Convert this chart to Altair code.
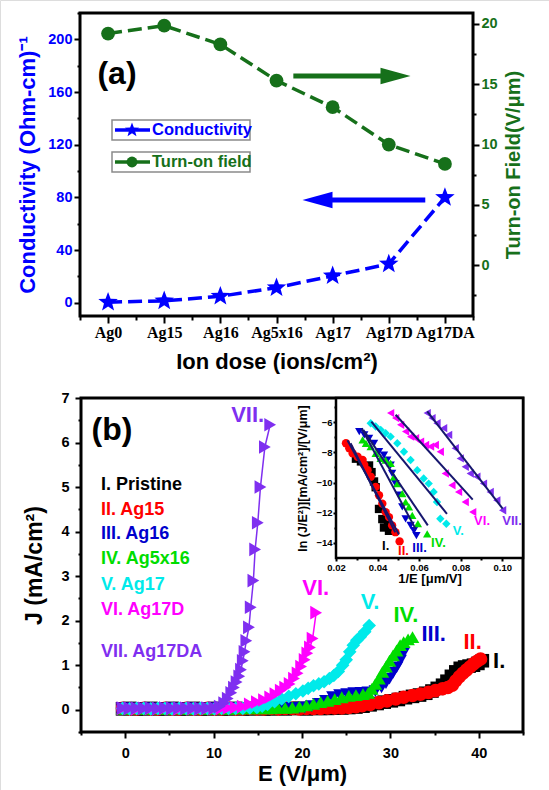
import altair as alt
import pandas as pd

FONT = "Liberation Sans"
BLUE = "#0000ff"
GREEN = "#16701a"
STAR = ("M0,-1L0.247,-0.34L0.951,-0.309L0.399,0.13L0.588,0.809L0,0.42"
        "L-0.588,0.809L-0.399,0.13L-0.951,-0.309L-0.247,-0.34Z")

# ---------------- Panel (a) data ----------------
SAMPLES = ["Ag0", "Ag15", "Ag16", "Ag5x16", "Ag17", "Ag17D", "Ag17DA"]
CONDUCTIVITY = [0.5, 1.5, 5.0, 11.5, 20.5, 29.5, 80.0]
TURN_ON_FIELD = [19.2, 19.85, 18.3, 15.3, 13.1, 10.0, 8.4]

# ---------------- Panel (b) data ----------------
SERIES = ["I.", "II.", "III.", "IV.", "V.", "VI.", "VII."]
SERIES_NAMES = ["I. Pristine", "II. Ag15", "III. Ag16", "IV. Ag5x16",
                "V. Ag17", "VI. Ag17D", "VII. Ag17DA"]
COLORS = ["#000000", "#ff0000", "#0000cc", "#00dd00", "#00eaea", "#ff00ff", "#7f2ff0"]
SHAPES_MAIN = ["square", "circle", "triangle-down", "triangle-up", "diamond",
               "triangle-right", "triangle-right"]
SHAPES_INSET = ["square", "circle", "triangle-down", "triangle-up", "diamond",
                "triangle-left", "triangle-left"]

JE_I = [(-0.3, 0.02), (0.5, 0.03), (1.3, 0.02), (2.1, 0.02), (2.9, 0.03), (3.7, 0.02),
        (4.5, 0.02), (5.3, 0.03), (6.1, 0.02), (6.9, 0.02), (7.7, 0.03), (8.5, 0.02),
        (9.3, 0.02), (10.1, 0.03), (10.9, 0.02), (11.7, 0.02), (12.5, 0.03), (13.3, 0.02),
        (14.1, 0.02), (14.9, 0.03), (15.7, 0.02), (16.5, 0.02), (17.3, 0.03), (18.1, 0.02),
        (18.9, 0.03), (19.7, 0.03), (20.5, 0.02), (21.3, 0.03), (22.1, 0.03), (22.9, 0.03),
        (23.7, 0.04), (24.5, 0.04), (25.3, 0.05), (26.1, 0.06), (26.9, 0.08), (27.7, 0.11),
        (28.5, 0.14), (29.3, 0.17), (30.1, 0.20), (30.9, 0.23), (31.7, 0.27), (32.5, 0.30),
        (33.3, 0.33), (34.0, 0.37), (34.7, 0.42), (35.3, 0.48), (35.9, 0.55), (36.4, 0.64),
        (36.9, 0.75), (37.4, 0.85), (37.9, 0.93), (38.4, 0.96), (38.9, 0.98), (39.4, 1.00),
        (39.9, 1.04), (40.4, 1.10)]
JE_II = [(-0.3, 0.03), (0.5, 0.02), (1.3, 0.02), (2.1, 0.03), (2.9, 0.02), (3.7, 0.02),
         (4.5, 0.03), (5.3, 0.02), (6.1, 0.02), (6.9, 0.03), (7.7, 0.02), (8.5, 0.02),
         (9.3, 0.03), (10.1, 0.02), (10.9, 0.02), (11.7, 0.03), (12.5, 0.02), (13.3, 0.02),
         (14.1, 0.03), (14.9, 0.02), (15.7, 0.02), (16.5, 0.03), (17.3, 0.02), (18.1, 0.03),
         (18.9, 0.03), (19.7, 0.02), (20.5, 0.03), (21.3, 0.03), (22.1, 0.03), (22.9, 0.04),
         (23.7, 0.04), (24.5, 0.04), (25.3, 0.05), (26.1, 0.07), (26.8, 0.09), (27.7, 0.12),
         (28.7, 0.16), (29.6, 0.20), (30.6, 0.24), (31.5, 0.28), (32.5, 0.32), (33.4, 0.35),
         (34.3, 0.39), (35.1, 0.43), (35.9, 0.47), (36.5, 0.50), (37.0, 0.55), (37.4, 0.65),
         (37.8, 0.74), (38.2, 0.82), (38.6, 0.89), (39.0, 0.96), (39.4, 1.03), (39.8, 1.09),
         (40.2, 1.14)]
JE_III = [(-0.3, 0.03), (0.5, 0.03), (1.3, 0.02), (2.1, 0.03), (2.9, 0.03), (3.7, 0.02),
          (4.5, 0.03), (5.3, 0.03), (6.1, 0.02), (6.9, 0.03), (7.7, 0.03), (8.5, 0.02),
          (9.3, 0.03), (10.1, 0.03), (10.9, 0.02), (11.7, 0.03), (12.5, 0.03), (13.3, 0.02),
          (14.1, 0.03), (14.9, 0.03), (15.7, 0.03), (16.5, 0.03), (17.3, 0.03), (18.1, 0.04),
          (18.9, 0.04), (19.7, 0.04), (20.3, 0.05), (21.1, 0.08), (21.9, 0.13), (22.7, 0.20),
          (23.5, 0.28), (24.3, 0.33), (25.1, 0.35), (25.9, 0.37), (26.7, 0.38), (27.5, 0.39),
          (28.3, 0.42), (29.0, 0.50), (29.5, 0.60), (29.9, 0.70), (30.3, 0.83), (30.7, 0.95),
          (31.1, 1.10), (31.5, 1.28)]
JE_IV = [(-0.3, 0.02), (0.5, 0.03), (1.3, 0.03), (2.1, 0.02), (2.9, 0.03), (3.7, 0.03),
         (4.5, 0.02), (5.3, 0.03), (6.1, 0.03), (6.9, 0.02), (7.7, 0.03), (8.5, 0.03),
         (9.3, 0.02), (10.1, 0.03), (10.9, 0.03), (11.7, 0.02), (12.5, 0.03), (13.3, 0.03),
         (14.1, 0.03), (14.9, 0.03), (15.7, 0.03), (16.5, 0.03), (17.3, 0.04), (18.1, 0.04),
         (18.9, 0.05), (19.7, 0.07), (20.5, 0.10), (21.3, 0.13), (22.1, 0.17), (22.9, 0.20),
         (23.7, 0.24), (24.5, 0.28), (25.3, 0.31), (26.1, 0.33), (26.9, 0.35), (27.5, 0.38),
         (27.9, 0.47), (28.3, 0.58), (28.7, 0.70), (29.1, 0.85), (29.5, 0.97), (29.9, 1.10),
         (30.3, 1.22), (30.7, 1.33), (31.1, 1.45), (31.5, 1.52), (32.0, 1.58), (32.5, 1.63)]
JE_V = [(-0.3, 0.03), (0.5, 0.02), (1.3, 0.03), (2.1, 0.03), (2.9, 0.02), (3.7, 0.03),
        (4.5, 0.03), (5.3, 0.02), (6.1, 0.03), (6.9, 0.03), (7.7, 0.02), (8.5, 0.03),
        (9.3, 0.03), (10.1, 0.02), (10.9, 0.03), (11.7, 0.03), (12.5, 0.03), (13.3, 0.03),
        (14.1, 0.04), (14.9, 0.05), (15.5, 0.08), (16.1, 0.12), (16.9, 0.18), (17.7, 0.24),
        (18.5, 0.30), (19.3, 0.36), (20.1, 0.42), (20.7, 0.48), (21.3, 0.54), (21.9, 0.58),
        (22.5, 0.63), (23.1, 0.70), (23.6, 0.77), (24.1, 0.86), (24.6, 1.00), (25.0, 1.12),
        (25.4, 1.30), (25.8, 1.45), (26.2, 1.56), (26.6, 1.64), (27.1, 1.75), (27.6, 1.89)]
JE_VI = [(-0.3, 0.03), (0.5, 0.03), (1.3, 0.02), (2.1, 0.03), (2.9, 0.03), (3.7, 0.02),
         (4.5, 0.03), (5.3, 0.03), (6.1, 0.02), (6.9, 0.03), (7.7, 0.03), (8.5, 0.02),
         (9.3, 0.03), (10.1, 0.03), (10.9, 0.03), (11.7, 0.04), (12.5, 0.05), (13.3, 0.07),
         (14.1, 0.12), (14.9, 0.17), (15.7, 0.22), (16.4, 0.28), (17.0, 0.35), (17.6, 0.43),
         (18.1, 0.50), (18.6, 0.58), (19.1, 0.70), (19.5, 0.82), (19.9, 0.97), (20.3, 1.12),
         (20.6, 1.27), (20.9, 1.40), (21.2, 1.60), (21.6, 2.18)]
JE_VII = [(-0.3, 0.04), (0.5, 0.03), (1.3, 0.04), (2.1, 0.03), (2.9, 0.04), (3.7, 0.03),
          (4.5, 0.04), (5.3, 0.03), (6.1, 0.04), (6.9, 0.03), (7.7, 0.04), (8.5, 0.03),
          (9.3, 0.04), (10.1, 0.04), (10.7, 0.07), (11.2, 0.15), (11.6, 0.25), (12.0, 0.38),
          (12.3, 0.50), (12.6, 0.62), (12.9, 0.75), (13.1, 0.90), (13.3, 1.10), (13.5, 1.30),
          (13.7, 1.55), (14.0, 1.85), (14.2, 2.30), (14.5, 2.90), (14.7, 3.60), (15.0, 4.20),
          (15.3, 5.00), (15.8, 5.90), (16.4, 6.40)]
JE_ALL = [JE_I, JE_II, JE_III, JE_IV, JE_V, JE_VI, JE_VII]

# inset: ln(J/E^2) vs 1/E
FN_I = [(0.0296, -8.42), (0.0320, -8.60), (0.0359, -8.87), (0.0371, -9.31), (0.0383, -9.93),
        (0.0391, -10.31), (0.0407, -11.75), (0.0423, -12.42), (0.0431, -12.98),
        (0.0450, -12.76), (0.0455, -13.20)]
FN_II = [(0.0248, -7.40), (0.0264, -7.73), (0.0280, -8.07), (0.0304, -8.29), (0.0328, -8.51),
         (0.0336, -8.84), (0.0352, -9.18), (0.0367, -9.62), (0.0391, -10.29), (0.0407, -10.84),
         (0.0423, -11.40), (0.0439, -11.96), (0.0455, -12.29), (0.0470, -12.84),
         (0.0486, -13.29), (0.0506, -13.90)]
FN_III = [(0.0312, -6.62), (0.0336, -6.84), (0.0359, -7.07), (0.0383, -7.40), (0.0407, -7.96),
          (0.0431, -8.18), (0.0447, -8.51), (0.0463, -8.84), (0.0470, -9.40), (0.0486, -10.07),
          (0.0503, -10.84), (0.0519, -11.62), (0.0535, -12.40), (0.0559, -12.84),
          (0.0575, -13.18), (0.0587, -13.51)]
FN_IV = [(0.0328, -7.18), (0.0344, -7.40), (0.0367, -7.62), (0.0391, -8.07), (0.0415, -8.40),
         (0.0439, -8.51), (0.0463, -8.73), (0.0479, -9.62), (0.0495, -10.07), (0.0519, -10.73),
         (0.0535, -11.29), (0.0551, -11.62), (0.0567, -12.18), (0.0594, -12.73),
         (0.0639, -13.40)]
FN_V = [(0.0367, -6.07), (0.0391, -6.29), (0.0415, -6.51), (0.0439, -6.73), (0.0463, -6.96),
        (0.0495, -7.40), (0.0527, -7.96), (0.0559, -8.51), (0.0591, -9.18), (0.0622, -9.73),
        (0.0646, -10.07), (0.0670, -10.62), (0.0686, -11.29), (0.0702, -12.40),
        (0.0731, -12.73)]
FN_VI = [(0.0463, -5.40), (0.0487, -5.73), (0.0511, -6.18), (0.0535, -6.62), (0.0559, -6.96),
         (0.0583, -7.07), (0.0607, -7.29), (0.0631, -7.51), (0.0655, -7.62), (0.0678, -7.51),
         (0.0702, -7.96), (0.0726, -9.40), (0.0758, -10.18), (0.0790, -10.62),
         (0.0822, -11.29), (0.0858, -11.96)]
FN_VII = [(0.0639, -5.40), (0.0662, -5.73), (0.0686, -6.07), (0.0718, -6.40), (0.0742, -6.84),
          (0.0774, -7.73), (0.0798, -8.40), (0.0822, -8.96), (0.0846, -9.40), (0.0878, -9.62),
          (0.0910, -10.07), (0.0942, -10.62), (0.0974, -11.18), (0.1002, -11.84)]
FN_ALL = [FN_I, FN_II, FN_III, FN_IV, FN_V, FN_VI, FN_VII]

FIT_ALL = [[(0.0270, -7.40), (0.0485, -13.30)],
           [(0.0255, -7.20), (0.0503, -13.45)],
           [(0.0323, -6.40), (0.0583, -13.07)],
           [(0.0331, -6.51), (0.0642, -12.84)],
           [(0.0370, -5.96), (0.0734, -12.07)],
           [(0.0487, -5.51), (0.0858, -11.13)],
           [(0.0639, -5.29), (0.1002, -11.73)]]

LABEL_MAIN_E = [42.3, 39.3, 34.9, 31.75, 27.7, 21.55, 13.85]
LABEL_MAIN_J = [1.10, 1.51, 1.71, 2.12, 2.41, 2.73, 6.62]
LABEL_INSET_X = [0.0439, 0.0525, 0.0602, 0.0693, 0.0789, 0.0903, 0.1047]
LABEL_INSET_Y = [-14.2, -14.53, -14.33, -14.0, -13.2, -12.53, -12.53]

# ---------------- data frames ----------------
df_a = pd.DataFrame({"idx": list(range(len(SAMPLES))), "sample": SAMPLES,
                     "cond": CONDUCTIVITY, "field": TURN_ON_FIELD})
rows = []
for si, pts in enumerate(JE_ALL):
    for k, (e, j) in enumerate(pts):
        rows.append({"series": SERIES[si], "E": e, "J": j, "ord": si * 1000 + k})
df_b = pd.DataFrame(rows)
rows = []
for si, pts in enumerate(FN_ALL):
    for k, (x, y) in enumerate(pts):
        rows.append({"series": SERIES[si], "invE": x, "lnJ": y, "ord": si * 1000 + k})
df_c = pd.DataFrame(rows)
rows = []
for si, pts in enumerate(FIT_ALL):
    for k, (x, y) in enumerate(pts):
        rows.append({"series": SERIES[si], "invE": x, "lnJ": y, "ord": k})
df_fit = pd.DataFrame(rows)
df_lab_b = pd.DataFrame({"series": SERIES, "E": LABEL_MAIN_E, "J": LABEL_MAIN_J})
df_lab_c = pd.DataFrame({"series": SERIES, "invE": LABEL_INSET_X, "lnJ": LABEL_INSET_Y})
one = pd.DataFrame({"k": [0]})

common = dict(domain=False, grid=False, tickColor="black", tickWidth=2,
              labelFont=FONT, labelFontWeight="bold", labelOverlap=False,
              labelFlush=False, titleFont=FONT, titleFontWeight="bold")


def minor_axis(orient, offset, values, size):
    return alt.Axis(orient=orient, offset=offset, values=values, tickSize=size,
                    labels=False, title=None, domain=False, grid=False,
                    tickColor="black", tickWidth=2)


def S(domain, rng):
    return alt.Scale(domain=domain, range=rng, nice=False, zero=False)


sx_a = S([-0.5, 6.5], [80, 473])
sy_l = S([-10, 220], [316, 13])
sy_r = S([-4.2, 20.9], [316, 13])
sx_b = S([-5, 45], [81, 523])
sy_b = S([-0.5, 7], [732, 398])
sx_c = S([0.02, 0.11], [336, 523])
sy_c = S([-15, -4.4], [558, 398])

lab_expr = " : ".join(f"datum.value == {i} ? '{s}'" for i, s in enumerate(SAMPLES)) + " : ''"
ax_a_x = alt.Axis(orient="bottom", offset=-474, values=list(range(len(SAMPLES))),
                  labelExpr=lab_expr, tickSize=7,
                  labelFontSize=16, labelColor="black", labelPadding=1,
                  title="Ion dose (ions/cm²)", titleFontSize=22, titleColor="black",
                  titlePadding=11, **{**common, "labelFont": "Liberation Serif"})
ax_a_l = alt.Axis(orient="left", offset=-80, values=list(range(0, 201, 40)), tickSize=6,
                  labelFontSize=14.5, labelColor=BLUE, labelPadding=2,
                  title="Conductivity (Ohm-cm)⁻¹", titleFontSize=22, titleColor=BLUE,
                  titlePadding=8, **common)
ax_a_r = alt.Axis(orient="right", offset=-76, values=[0, 5, 10, 15, 20], tickSize=6,
                  labelFontSize=14.5, labelColor=GREEN, labelPadding=2,
                  title="Turn-on Field(V/μm)", titleFontSize=20, titleColor=GREEN,
                  titleAngle=270, titleBaseline="top", titlePadding=6, **common)
ax_b_x = alt.Axis(orient="bottom", offset=-58, values=[0, 10, 20, 30, 40], tickSize=6,
                  labelFontSize=14.5, labelColor="black", labelPadding=8,
                  title="E (V/μm)", titleFontSize=22, titleColor="black",
                  titlePadding=4, **common)
ax_b_y = alt.Axis(orient="left", offset=-81, values=list(range(0, 8)), tickSize=6,
                  labelFontSize=14.5, labelColor="black", labelPadding=6,
                  title="J (mA/cm²)", titleFontSize=23, titleColor="black",
                  titlePadding=14, **common)
ax_c_x = alt.Axis(orient="bottom", offset=-232, values=[0.02, 0.04, 0.06, 0.08, 0.10],
                  format=".2f", tickSize=3,
                  labelFontSize=9.5, labelColor="black", labelPadding=1,
                  title="1/E [μm/V]", titleFontSize=13, titleColor="black",
                  titlePadding=1, zindex=1, **common)
ax_c_y = alt.Axis(orient="left", offset=-336, values=[-14, -12, -10, -8, -6], tickSize=3,
                  labelFontSize=9.5, labelColor="black", labelPadding=1,
                  title="ln (J/E²)][mA/cm²]/[V/μm]", titleFontSize=12.5, titleColor="black",
                  titlePadding=6, zindex=1, **common)

XA = lambda f: alt.X(f, scale=sx_a, axis=ax_a_x)
XA2 = lambda f: alt.X(f, scale=sx_a, axis=None)
YL = lambda f: alt.Y(f, scale=sy_l, axis=ax_a_l)
YR = lambda f: alt.Y(f, scale=sy_r, axis=ax_a_r)
XB = lambda f: alt.X(f, scale=sx_b, axis=ax_b_x)
YB = lambda f: alt.Y(f, scale=sy_b, axis=ax_b_y)
XC = lambda f: alt.X(f, scale=sx_c, axis=ax_c_x)
YC = lambda f: alt.Y(f, scale=sy_c, axis=ax_c_y)

HEAD_R = "M-1,-0.55L1,0L-1,0.55Z"
HEAD_L = "M1,-0.55L-1,0L1,0.55Z"

# ---------------- panel (a), conductivity ----------------
frame_a = alt.Chart(pd.DataFrame({"x0": [-0.5], "x1": [6.5], "y0": [-10], "y1": [220]})).mark_rect(
    fillOpacity=0, stroke="black", strokeWidth=3).encode(x=XA("x0:Q"), x2="x1:Q", y=YL("y0:Q"), y2="y1:Q")
cond_line = alt.Chart(df_a).mark_line(color=BLUE, strokeWidth=3.5, strokeDash=[14, 6]).encode(
    x=XA("idx:Q"), y=YL("cond:Q"))
cond_pts = alt.Chart(df_a).mark_point(shape=STAR, filled=True, size=420, color=BLUE, opacity=1).encode(
    x=XA("idx:Q"), y=YL("cond:Q"))
arr_b = pd.DataFrame({"x0": [5.65], "x1": [3.75], "xh": [3.73], "y": [78]})
arr_b_shaft = alt.Chart(arr_b).mark_rule(color=BLUE, strokeWidth=5).encode(
    x=XA("x0:Q"), x2="x1:Q", y=YL("y:Q"))
arr_b_head = alt.Chart(arr_b).mark_point(shape=HEAD_L, filled=True, size=900, color=BLUE, opacity=1).encode(
    x=XA("xh:Q"), y=YL("y:Q"))
group_a1 = alt.layer(frame_a, cond_line, cond_pts, arr_b_shaft, arr_b_head)

# ---------------- panel (a), turn-on field ----------------
field_line = alt.Chart(df_a).mark_line(color=GREEN, strokeWidth=3.5, strokeDash=[14, 6]).encode(
    x=XA2("idx:Q"), y=YR("field:Q"))
field_pts = alt.Chart(df_a).mark_circle(size=190, color=GREEN, opacity=1).encode(
    x=XA2("idx:Q"), y=YR("field:Q"))
arr_g = pd.DataFrame({"x0": [3.3], "x1": [5.05], "xh": [5.12], "y": [15.68]})
arr_g_shaft = alt.Chart(arr_g).mark_rule(color=GREEN, strokeWidth=5).encode(
    x=XA2("x0:Q"), x2="x1:Q", y=YR("y:Q"))
arr_g_head = alt.Chart(arr_g).mark_point(shape=HEAD_R, filled=True, size=900, color=GREEN, opacity=1).encode(
    x=XA2("xh:Q"), y=YR("y:Q"))
group_a2 = alt.layer(field_line, field_pts, arr_g_shaft, arr_g_head)

minor_a1 = alt.Chart(df_a).mark_point(opacity=0).encode(
    x=alt.X("idx:Q", scale=sx_a, axis=minor_axis("bottom", -474, [-0.5 + i for i in range(8)], 4)),
    y=alt.Y("cond:Q", scale=sy_l, axis=minor_axis("left", -80, [20, 60, 100, 140, 180, 220], 3)))
minor_a2 = alt.Chart(df_a).mark_point(opacity=0).encode(
    x=alt.X("idx:Q", scale=sx_a, axis=None),
    y=alt.Y("field:Q", scale=sy_r, axis=minor_axis("right", -76, [-2.5, 2.5, 7.5, 12.5, 17.5], 3)))

# ---------------- panel (b), main ----------------
col_b = alt.Color("series:N", scale=alt.Scale(domain=SERIES, range=COLORS), legend=None)
frame_b = alt.Chart(pd.DataFrame({"x0": [-5], "x1": [45], "y0": [-0.5], "y1": [7]})).mark_rect(
    fillOpacity=0, stroke="black", strokeWidth=3).encode(x=XB("x0:Q"), x2="x1:Q", y=YB("y0:Q"), y2="y1:Q")
b_lines = alt.Chart(df_b).mark_line(strokeWidth=1.5).encode(
    x=XB("E:Q"), y=YB("J:Q"), color=col_b, order="ord:Q")
b_pts = alt.Chart(df_b).mark_point(filled=True, size=185, opacity=1).encode(
    x=XB("E:Q"), y=YB("J:Q"), color=col_b,
    shape=alt.Shape("series:N", scale=alt.Scale(domain=SERIES, range=SHAPES_MAIN), legend=None))
b_labels = alt.Chart(df_lab_b).mark_text(font=FONT, fontSize=22, fontWeight="bold").encode(
    x=XB("E:Q"), y=YB("J:Q"), text="series:N", color=col_b)
group_b = alt.layer(frame_b, b_lines, b_pts, b_labels)
minor_b = alt.Chart(df_b).mark_point(opacity=0).encode(
    x=alt.X("E:Q", scale=sx_b, axis=minor_axis("bottom", -58, [-5, 5, 15, 25, 35, 45], 3)),
    y=alt.Y("J:Q", scale=sy_b, axis=minor_axis("left", -81, [-0.5 + i for i in range(8)], 3)))

# ---------------- panel (b), inset ----------------
col_c = alt.Color("series:N", scale=alt.Scale(domain=SERIES, range=COLORS), legend=None)
frame_c = alt.Chart(pd.DataFrame({"x0": [0.02], "x1": [0.11], "y0": [-15], "y1": [-4.4]})).mark_rect(
    fill="white", stroke="black", strokeWidth=2.5).encode(x=XC("x0:Q"), x2="x1:Q", y=YC("y0:Q"), y2="y1:Q")
c_pts = alt.Chart(df_c).mark_point(filled=True, size=70, opacity=1).encode(
    x=XC("invE:Q"), y=YC("lnJ:Q"), color=col_c,
    shape=alt.Shape("series:N", scale=alt.Scale(domain=SERIES, range=SHAPES_INSET), legend=None))
c_fit = alt.Chart(df_fit).mark_line(color="#16166e", strokeWidth=2).encode(
    x=XC("invE:Q"), y=YC("lnJ:Q"), detail="series:N", order="ord:Q")
c_labels = alt.Chart(df_lab_c).mark_text(font=FONT, fontSize=13, fontWeight="bold").encode(
    x=XC("invE:Q"), y=YC("lnJ:Q"), text="series:N", color=col_c)
group_c = alt.layer(frame_c, c_pts, c_fit, c_labels)
minor_c = alt.Chart(df_c).mark_point(opacity=0).encode(
    x=alt.X("invE:Q", scale=sx_c, axis=minor_axis("bottom", -232, [0.03, 0.05, 0.07, 0.09], 2)),
    y=alt.Y("lnJ:Q", scale=sy_c, axis=minor_axis("left", -336, [-13, -11, -9, -7, -5], 2)))

# ---------------- annotations ----------------
ann = []
ann.append(alt.Chart(one).mark_text(text="(a)", font=FONT, fontSize=32, fontWeight="bold",
                                    align="center", baseline="middle", color="black").encode(
    x=alt.value(117), y=alt.value(74)))
ann.append(alt.Chart(one).mark_text(text="(b)", font=FONT, fontSize=32, fontWeight="bold",
                                    align="center", baseline="middle", color="black").encode(
    x=alt.value(112), y=alt.value(430)))
for yc, label, colr, shp, sz in [(130, "Conductivity", BLUE, STAR, 230),
                                 (162, "Turn-on field", GREEN, "circle", 120)]:
    ann.append(alt.Chart(one).mark_rect(fillOpacity=0, stroke="#8a8a8a", strokeWidth=1.5).encode(
        x=alt.value(112), x2=alt.value(250), y=alt.value(yc - 10), y2=alt.value(yc + 10)))
    ann.append(alt.Chart(one).mark_rule(color=colr, strokeWidth=3.5).encode(
        x=alt.value(115), x2=alt.value(150), y=alt.value(yc)))
    ann.append(alt.Chart(one).mark_point(shape=shp, filled=True, size=sz, color=colr, opacity=1).encode(
        x=alt.value(132), y=alt.value(yc)))
    ann.append(alt.Chart(one).mark_text(text=label, font=FONT, fontSize=16.5, fontWeight="bold",
                                        align="left", baseline="middle", color=colr).encode(
        x=alt.value(152), y=alt.value(yc)))
for name, colr, yc in zip(SERIES_NAMES, COLORS, [485, 510, 534, 559, 585, 610, 652]):
    ann.append(alt.Chart(one).mark_text(text=name, font=FONT, fontSize=18, fontWeight="bold",
                                        align="left", baseline="middle", color=colr).encode(
        x=alt.value(101), y=alt.value(yc)))

chart = alt.layer(group_a1, group_a2, minor_a1, minor_a2, group_b, minor_b, group_c, minor_c, *ann).resolve_scale(
    x="independent", y="independent", color="independent", shape="independent"
).properties(
    width=549, height=790, autosize=alt.AutoSizeParams(type="none"), padding=0
).configure_view(stroke=None).configure(background="white")

chart.save("out.html", embed_options={"renderer": "svg", "actions": False})
